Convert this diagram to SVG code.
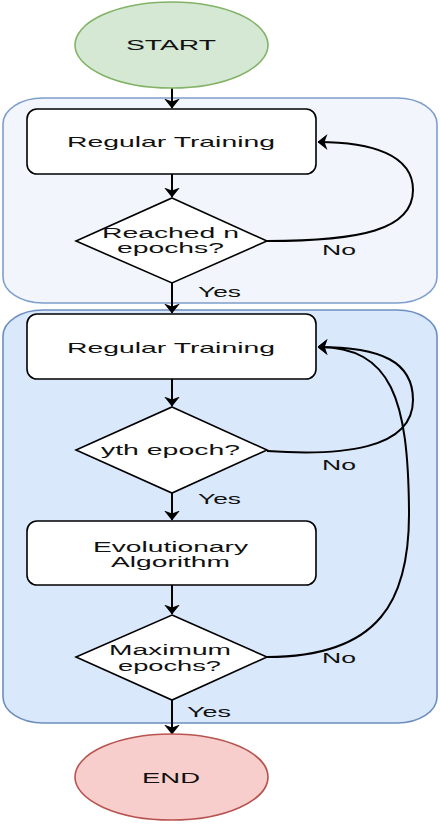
<svg xmlns="http://www.w3.org/2000/svg" width="440" height="831" viewBox="0 0 440 831">
<style>
text{font-family:"Liberation Sans",Arial,sans-serif;font-size:15px;fill:#111;text-anchor:start}
text.m{font-size:14px}
.box{fill:#fff;stroke:#000;stroke-width:1.6}
.dia{fill:#fff;stroke:#000;stroke-width:1.6}
.edge{fill:none;stroke:#000;stroke-width:2;marker-end:url(#arr)}
</style>
<defs>
<marker id="arr" viewBox="0 0 10 16" refX="9.5" refY="8" markerWidth="5" markerHeight="8" markerUnits="strokeWidth" orient="auto">
<path d="M0,0 L10,8 L0,16 L3,8 z" fill="#000"/>
</marker>
</defs>
<g id="phase1">
<rect x="3" y="98" width="434" height="205" rx="40" ry="26" fill="#f2f6fc" stroke="#7e9ecc" stroke-width="1.6"/>
</g>
<g id="phase2">
<rect x="3" y="310" width="434" height="413" rx="40" ry="26" fill="#dae8fc" stroke="#6c8ebf" stroke-width="1.6"/>
</g>
<g id="connectors">
<path class="edge" d="M172,88 L172,108"/>
<path class="edge" d="M172,174 L172,197"/>
<path class="edge" d="M172,283 L172,313"/>
<path class="edge" d="M172,379 L172,406"/>
<path class="edge" d="M172,493 L172,520"/>
<path class="edge" d="M172,585 L172,614"/>
<path class="edge" d="M172,700 L172,734"/>
<path class="edge" d="M267,241 C360,241 413,230 413,190 C413,155 372,142 318,142"/>
<path class="edge" d="M267,451 C340,456 413,450 413,400 C413,362 382,347 318,347"/>
<path class="edge" d="M267,657 C380,657 410,600 409,510 C408,400 392,347 318,347"/>
<text x="322" y="255" textLength="34" lengthAdjust="spacingAndGlyphs">No</text>
<text x="198" y="297" textLength="43" lengthAdjust="spacingAndGlyphs">Yes</text>
<text x="322" y="470" textLength="34" lengthAdjust="spacingAndGlyphs">No</text>
<text x="198" y="504" textLength="43" lengthAdjust="spacingAndGlyphs">Yes</text>
<text x="322" y="663" textLength="34" lengthAdjust="spacingAndGlyphs">No</text>
<text x="187" y="717" textLength="44" lengthAdjust="spacingAndGlyphs">Yes</text>
</g>
<g id="start">
<ellipse cx="171.5" cy="45" rx="96.5" ry="43" fill="#d5e8d4" stroke="#82b366" stroke-width="1.6"/>
<text x="126" y="50" textLength="90" lengthAdjust="spacingAndGlyphs">START</text>
</g>
<g id="train1">
<rect class="box" x="27" y="109" width="289" height="65" rx="10"/>
<text x="67" y="147" textLength="208" lengthAdjust="spacingAndGlyphs">Regular Training</text>
</g>
<g id="check1">
<polygon class="dia" points="172,198 267,241 172,283 76,241"/>
<text class="m" x="102" y="238" textLength="137" lengthAdjust="spacingAndGlyphs">Reached n</text>
<text class="m" x="117" y="253" textLength="107" lengthAdjust="spacingAndGlyphs">epochs?</text>
</g>
<g id="train2">
<rect class="box" x="27" y="314" width="289" height="65" rx="10"/>
<text x="67" y="353" textLength="208" lengthAdjust="spacingAndGlyphs">Regular Training</text>
</g>
<g id="check2">
<polygon class="dia" points="172,407 267,450 172,493 76,450"/>
<text x="101" y="455" textLength="139" lengthAdjust="spacingAndGlyphs">yth epoch?</text>
</g>
<g id="evo">
<rect class="box" x="27" y="521" width="289" height="64" rx="10"/>
<text class="m" x="93" y="552" textLength="155" lengthAdjust="spacingAndGlyphs">Evolutionary</text>
<text class="m" x="111" y="567" textLength="119" lengthAdjust="spacingAndGlyphs">Algorithm</text>
</g>
<g id="check3">
<polygon class="dia" points="172,615 267,657 172,700 76,657"/>
<text class="m" x="109" y="655" textLength="122" lengthAdjust="spacingAndGlyphs">Maximum</text>
<text class="m" x="118" y="671" textLength="103" lengthAdjust="spacingAndGlyphs">epochs?</text>
</g>
<g id="end">
<ellipse cx="171.5" cy="777" rx="96.5" ry="43" fill="#f8cecc" stroke="#b85450" stroke-width="1.6"/>
<text x="142" y="783" textLength="58" lengthAdjust="spacingAndGlyphs">END</text>
</g>
</svg>
